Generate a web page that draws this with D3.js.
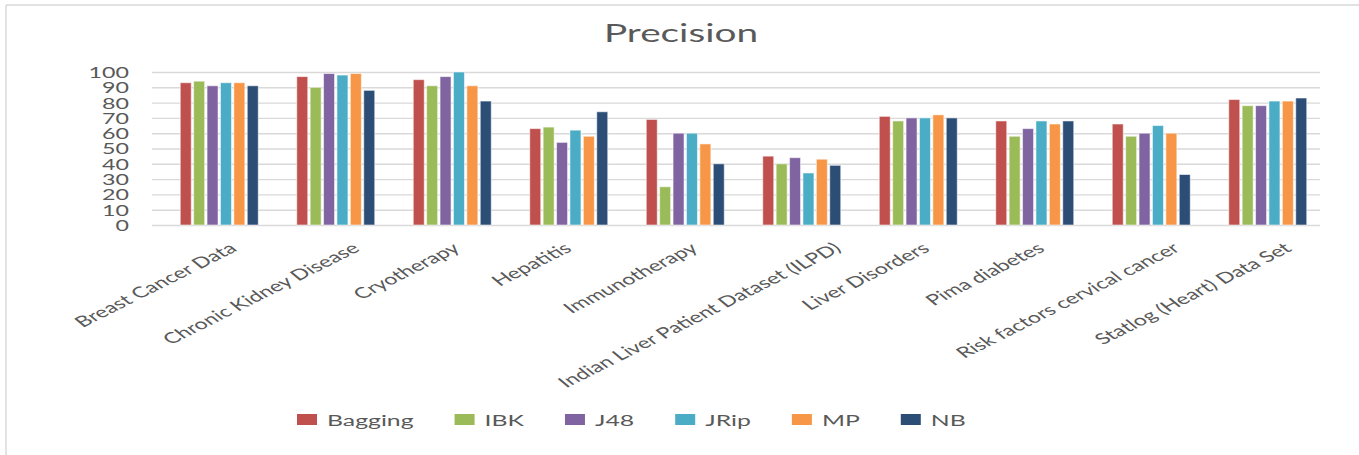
<!DOCTYPE html>
<html>
<head>
<meta charset="utf-8">
<script src="https://cdn.jsdelivr.net/npm/d3@7"></script>
<style>
  html, body { margin: 0; padding: 0; background: #fff; }
  svg { display: block; }
  text { font-family: Lato, "Open Sans", sans-serif; fill: #595959; }
</style>
</head>
<body>
<svg id="chart" width="1359" height="455"></svg>
<script>
// Datasets (categories)
const categories = [
  "Breast Cancer Data",
  "Chronic Kidney Disease",
  "Cryotherapy",
  "Hepatitis",
  "Immunotherapy",
  "Indian Liver Patient Dataset (ILPD)",
  "Liver Disorders",
  "Pima diabetes",
  "Risk factors cervical cancer",
  "Statlog (Heart) Data Set"
];

// Classifiers (series)
const seriesNames = ["Bagging", "IBK", "J48", "JRip", "MP", "NB"];
const seriesColors = ["#C0504D", "#9BBB59", "#8064A2", "#4BACC6", "#F79646", "#2C4D75"];

// Precision per dataset, one array per classifier
const bagging = [93, 97, 95, 63, 69, 45, 71, 68, 66, 82];
const ibk     = [94, 90, 91, 64, 25, 40, 68, 58, 58, 78];
const j48     = [91, 99, 97, 54, 60, 44, 70, 63, 60, 78];
const jrip    = [93, 98, 100, 62, 60, 34, 70, 68, 65, 81];
const mp      = [93, 99, 91, 58, 53, 43, 72, 66, 60, 81];
const nb      = [91, 88, 81, 74, 40, 39, 70, 68, 33, 83];

const yTicks = [0, 10, 20, 30, 40, 50, 60, 70, 80, 90, 100];
const titleText = "Precision";

const seriesValues = [bagging, ibk, j48, jrip, mp, nb];

// Long table: one row per (dataset, classifier)
const rows = [];
categories.forEach((c, ci) => {
  seriesNames.forEach((s, si) => {
    rows.push({ category: c, series: s, value: seriesValues[si][ci] });
  });
});

const svg = d3.select("#chart");
const SX = 1.55; // horizontal text stretch

// Chart frame (left and top edges)
svg.append("line").attr("x1", 6).attr("x2", 6).attr("y1", 5).attr("y2", 455)
  .attr("stroke", "#d9d9d9").attr("stroke-width", 1.5);
svg.append("line").attr("x1", 6).attr("x2", 1359).attr("y1", 5).attr("y2", 5)
  .attr("stroke", "#d9d9d9").attr("stroke-width", 1.5);

const plotLeft = 152, plotRight = 1320;
const y = d3.scaleLinear().domain([0, 100]).range([225, 72]);
const x = d3.scaleBand().domain(categories).range([161, 1326]).padding(0);
const groupWidth = 80.4;
const xs = d3.scaleBand().domain(seriesNames).range([-groupWidth / 2, groupWidth / 2]).padding(0);
const color = d3.scaleOrdinal().domain(seriesNames).range(seriesColors);

// Title
svg.append("text")
  .attr("transform", `translate(681,42) scale(${SX},1)`)
  .attr("text-anchor", "middle")
  .style("font-size", "25px")
  .text(titleText);

// Gridlines + y labels
const yAxis = svg.append("g")
  .attr("transform", `translate(${plotLeft},0)`)
  .call(d3.axisLeft(y).tickValues(yTicks).tickSize(-(plotRight - plotLeft)).tickFormat(d3.format("d")));
yAxis.select(".domain").remove();
yAxis.selectAll(".tick line").attr("stroke", "#d9d9d9").attr("stroke-width", 1.4);
yAxis.selectAll(".tick text")
  .attr("x", null).attr("dy", "0.36em")
  .attr("transform", `translate(-23,0) scale(${SX},1)`)
  .attr("fill", "#595959")
  .style("font-size", "15px")
  .style("font-family", "Lato, sans-serif");

// Bars
svg.append("g").selectAll("rect")
  .data(rows)
  .join("rect")
  .attr("x", d => x(d.category) + x.bandwidth() / 2 + xs(d.series) + 1.2)
  .attr("width", xs.bandwidth() - 2.4)
  .attr("y", d => y(d.value))
  .attr("height", d => y(0) - y(d.value))
  .attr("fill", d => color(d.series))
  .attr("stroke", "rgba(255,255,255,0.55)")
  .attr("stroke-width", 1);

// Category labels, slanted; longer labels sit further right of their tick
const theta = 37.8;
const xAxis = svg.append("g")
  .attr("transform", "translate(0,246)")
  .call(d3.axisBottom(x).tickSize(0));
xAxis.select(".domain").remove();
xAxis.selectAll(".tick text")
  .attr("y", null).attr("dy", "0.35em")
  .attr("text-anchor", "end")
  .attr("fill", "#595959")
  .style("font-size", "15px")
  .style("font-family", "Lato, sans-serif")
  .each(function () {
    const len = this.getComputedTextLength();
    const shift = 0.22 * len - 14;
    d3.select(this).attr("transform", `translate(${shift},0) scale(${SX},1) rotate(${-theta})`);
  });

// Legend
const legend = svg.append("g").attr("transform", "translate(297,420)");
let lx = 0;
seriesNames.forEach(s => {
  const item = legend.append("g").attr("transform", `translate(${lx},0)`);
  item.append("rect").attr("x", 0).attr("y", -6).attr("width", 20).attr("height", 11)
    .attr("fill", color(s));
  const t = item.append("text")
    .attr("transform", `translate(30,0) scale(${SX},1)`)
    .attr("dy", "0.36em")
    .style("font-size", "16px")
    .text(s);
  const w = t.node().getComputedTextLength() * SX;
  lx += 30 + w + 41;
});
</script>
</body>
</html>
